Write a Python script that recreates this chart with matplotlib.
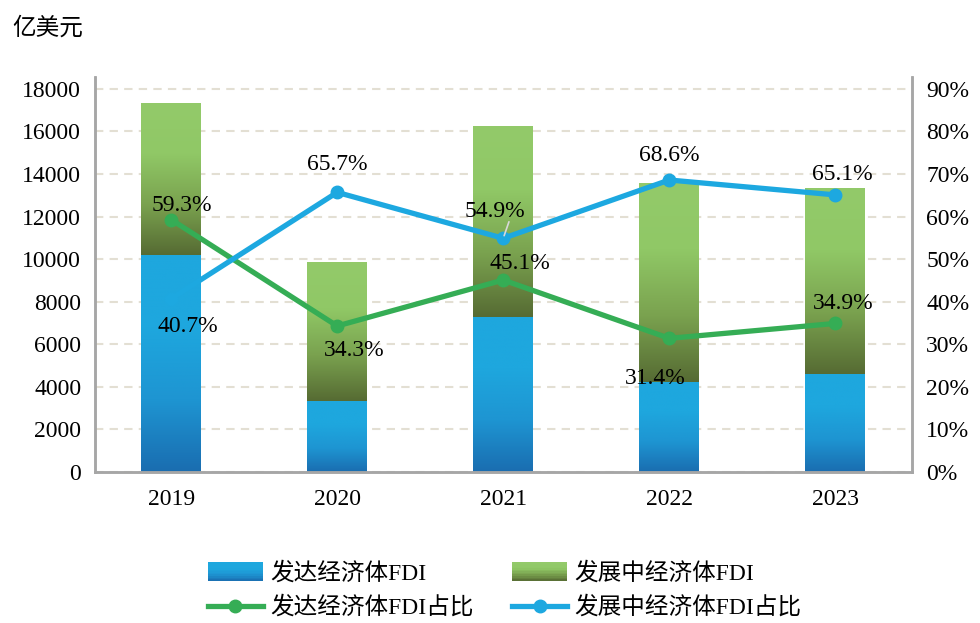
import matplotlib
matplotlib.use("Agg")
import matplotlib.pyplot as plt
import numpy as np
from matplotlib.colors import LinearSegmentedColormap
from matplotlib.legend_handler import HandlerBase
from matplotlib.lines import Line2D
from matplotlib.patches import Rectangle

plt.rcParams["font.family"] = ["Liberation Serif", "Noto Sans CJK SC"]

years = ["2019", "2020", "2021", "2022", "2023"]
developed_fdi = [10200, 3340, 7290, 4230, 4610]
developing_fdi = [7140, 6530, 8970, 9350, 8740]
developed_share = [59.3, 34.3, 45.1, 31.4, 34.9]
developing_share = [40.7, 65.7, 54.9, 68.6, 65.1]

BLUE_CMAP = LinearSegmentedColormap.from_list("b", ["#1A6DB0", "#1E95D2", "#1EA7DE", "#1EA7DE"])
GREEN_CMAP = LinearSegmentedColormap.from_list("g", ["#566B33", "#7AA24F", "#90C866", "#93CA6A"])
LINE_GREEN = "#35AD55"
LINE_BLUE = "#1DA8E0"
GRAY = "#A6A6A6"
FS = 17


def gradient_bar(ax, x, bottom, height, width, cmap):
    bar = ax.bar(x, height, width, bottom=bottom, color="none", linewidth=0, zorder=2)[0]
    grad = np.linspace(0, 1, 256).reshape(-1, 1)
    im = ax.imshow(grad, cmap=cmap, origin="lower", aspect="auto", zorder=2,
                   extent=(x - width / 2, x + width / 2, bottom, bottom + height))
    im.set_clip_path(bar)


class GradientHandler(HandlerBase):
    def __init__(self, cmap):
        super().__init__()
        self.cmap = cmap

    def create_artists(self, legend, orig_handle, xdescent, ydescent, width, height, fontsize, trans):
        n = 12
        arts = []
        for i in range(n):
            r = Rectangle((-xdescent, -ydescent + height * i / n), width, height / n + 0.2,
                          facecolor=self.cmap((i + 0.5) / n), edgecolor="none", transform=trans)
            arts.append(r)
        return arts


fig = plt.figure(figsize=(9.8, 6.23), dpi=100)
ax = fig.add_axes([0.097, 0.2424, 0.834, 0.634])
ax2 = ax.twinx()

x = np.arange(len(years))
w = 0.36
for i in range(len(years)):
    gradient_bar(ax, x[i], 0, developed_fdi[i], w, BLUE_CMAP)
    gradient_bar(ax, x[i], developed_fdi[i], developing_fdi[i], w, GREEN_CMAP)

ax.set_xlim(-0.458, 4.464)
ax.set_ylim(0, 18560)
ax.set_yticks(range(0, 18001, 2000))
ax.set_yticklabels([str(v) for v in range(0, 18001, 2000)], fontsize=FS)
ax.set_xticks(x)
ax.set_xticklabels(years, fontsize=FS)
ax.tick_params(length=0, pad=10)
ax.tick_params(axis="x", pad=12)
ax.yaxis.grid(True, linestyle=(0, (4, 3)), color="#E3DFD3", linewidth=1.5)
ax.set_axisbelow(True)

for a in (ax, ax2):
    a.spines["top"].set_visible(False)
    for s in ("left", "right", "bottom"):
        a.spines[s].set_color(GRAY)
        a.spines[s].set_linewidth(1.8)

ax2.plot(x, developed_share, color=LINE_GREEN, lw=3.8, marker="o", ms=9, zorder=3)
ax2.plot(x, developing_share, color=LINE_BLUE, lw=3.8, marker="o", ms=9, zorder=3)
ax2.set_ylim(0, 92.8)
ax2.set_yticks(range(0, 91, 10))
ax2.set_yticklabels([f"{v}%" for v in range(0, 91, 10)], fontsize=FS)
ax2.tick_params(length=0, pad=10)

# label offsets in points (dx, dy)
green_off = [(8, 10), (12, -18), (12, 12), (-10, -29), (6, 14)]
blue_off = [(12, -20), (0, 20), (-6, 19), (0, 18), (5, 15)]
for i in range(len(years)):
    ax2.annotate(f"{developed_share[i]}%", (x[i], developed_share[i]), xytext=green_off[i],
                 textcoords="offset points", ha="center", va="center", fontsize=FS, zorder=4)
    ax2.annotate(f"{developing_share[i]}%", (x[i], developing_share[i]), xytext=blue_off[i],
                 textcoords="offset points", ha="center", va="center", fontsize=FS, zorder=4)

# small leader line for the 2021 blue label
ax2.annotate("", (x[2], developing_share[2]), xytext=(x[2] + 0.04, developing_share[2] + 4.5),
             arrowprops=dict(arrowstyle="-", color="#D9D9D9", lw=1.2), zorder=4)

fig.text(0.013, 0.955, "亿美元", fontsize=FS, va="center", ha="left")

h1 = Rectangle((0, 0), 1, 1)
h2 = Rectangle((0, 0), 1, 1)
h3 = Line2D([], [], color=LINE_GREEN, lw=3.8, marker="o", ms=9)
h4 = Line2D([], [], color=LINE_BLUE, lw=3.8, marker="o", ms=9)
fig.legend([h1, h3, h2, h4],
           ["发达经济体FDI", "发达经济体FDI占比", "发展中经济体FDI", "发展中经济体FDI占比"],
           handler_map={h1: GradientHandler(BLUE_CMAP), h2: GradientHandler(GREEN_CMAP)},
           loc="center", bbox_to_anchor=(0.515, 0.052), ncol=2, frameon=False, fontsize=FS,
           handlelength=2.33, handleheight=0.8, columnspacing=1.65, labelspacing=0.5,
           handletextpad=0.3, borderpad=0.2)

fig.savefig("out.png", dpi=100)
